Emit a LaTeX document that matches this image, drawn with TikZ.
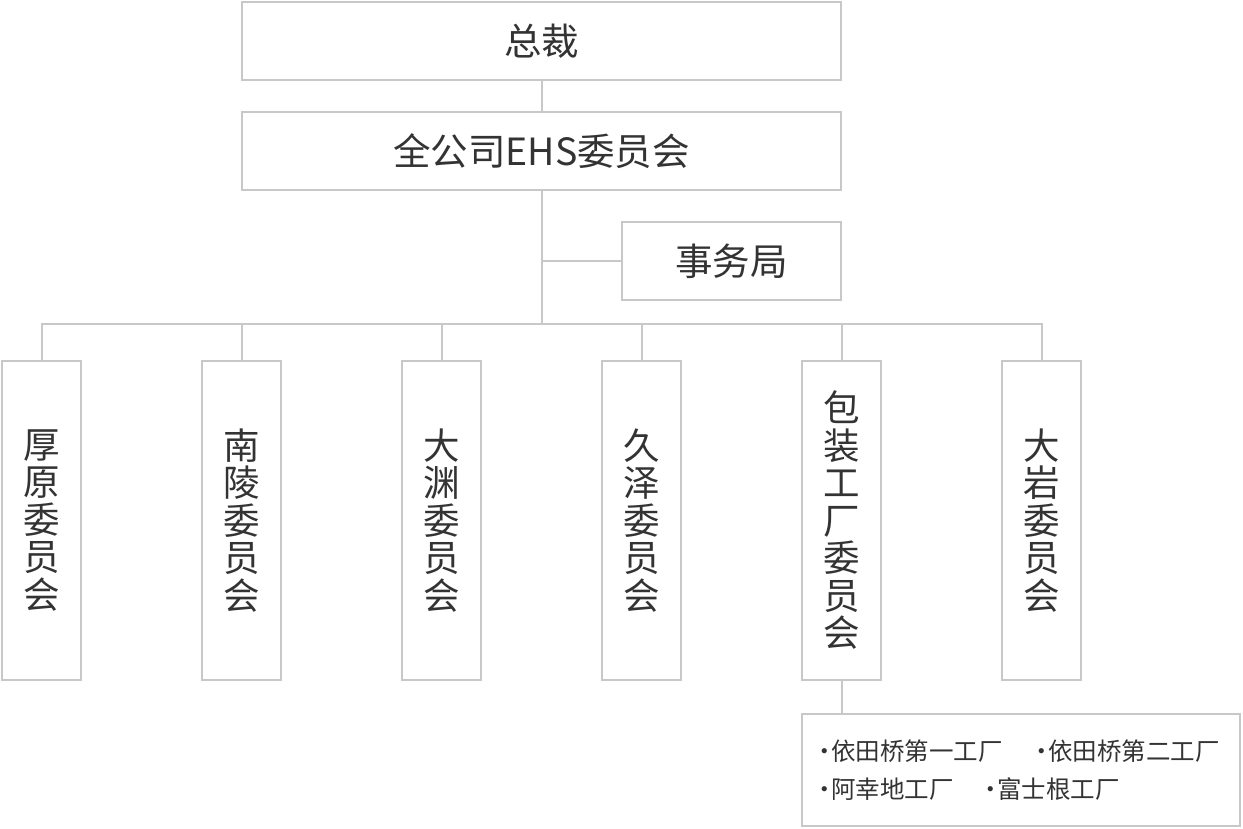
\documentclass[tikz,border=0pt]{standalone}
\usepackage{fontspec}
\setmainfont{Noto Sans CJK SC}
\definecolor{boxline}{HTML}{C8C8C8}
\definecolor{txt}{HTML}{333333}
\newcommand{\bul}{\makebox[13pt][c]{·}}
\begin{document}
\begin{tikzpicture}[x=1pt,y=-1pt,
  box/.style={draw=boxline,line width=2pt,fill=white,inner sep=0pt,text=txt},
  hbox/.style={box,minimum width=599pt,minimum height=78pt,font=\fontsize{37.5}{40}\selectfont},
  vbox/.style={box,minimum width=79pt,minimum height=319pt,align=center,font=\fontsize{36.5}{37.5}\selectfont},
  ftxt/.style={anchor=west,text=txt,inner sep=0pt,font=\fontsize{24.5}{28}\selectfont},
  conn/.style={draw=boxline,line width=2pt}]
\useasboundingbox (0,0) rectangle (1243,829);
\node[hbox] (zc) at (541.5,41) {总裁};
\node[hbox] (ehs) at (541.5,151) {全公司EHS委员会};
\node[box,minimum width=219pt,minimum height=78pt,font=\fontsize{37.5}{40}\selectfont] (swj) at (731.5,261) {事务局};
\node[vbox] (c1) at (41.5,520.5) {厚\\原\\委\\员\\会};
\node[vbox] (c2) at (241.5,520.5) {南\\陵\\委\\员\\会};
\node[vbox] (c3) at (441.5,520.5) {大\\渊\\委\\员\\会};
\node[vbox] (c4) at (641.5,520.5) {久\\泽\\委\\员\\会};
\node[vbox] (c5) at (841.5,520.5) {包\\装\\工\\厂\\委\\员\\会};
\node[vbox] (c6) at (1041.5,520.5) {大\\岩\\委\\员\\会};
\node[box,minimum width=438pt,minimum height=112pt] (fac) at (1021,770) {};
\node[ftxt] (f1) at (818,751) {\bul 依田桥第一工厂};
\node[ftxt] (f2) at (1035,751) {\bul 依田桥第二工厂};
\node[ftxt] (f3) at (818,789) {\bul 阿幸地工厂};
\node[ftxt] (f4) at (984,789) {\bul 富士根工厂};
\coordinate (bus) at (541.5,324);
\coordinate (mid) at (541.5,261);
\draw[conn] (zc.south) -- (ehs.north);
\draw[conn] (ehs.south) -- (bus);
\draw[conn] (mid) -- (swj.west);
\draw[conn] (c1.north) |- (bus) -| (c6.north);
\foreach \c in {c2,c3,c4,c5}{\draw[conn] (\c.north) -- (\c.north |- bus);}
\draw[conn] (c5.south) -- (c5.south |- fac.north);
\end{tikzpicture}
\end{document}
